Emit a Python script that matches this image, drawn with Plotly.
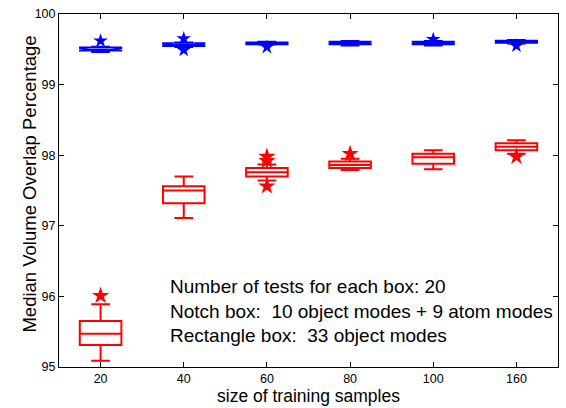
import plotly.graph_objects as go

# Training-sample sizes on the x axis
sizes = ["20", "40", "60", "80", "100", "160"]
positions = [1, 2, 3, 4, 5, 6]

# Rectangle boxes (33 object modes) - red
rect_q1 = [95.31, 97.32, 97.70, 97.82, 97.88, 98.07]
rect_median = [95.47, 97.50, 97.76, 97.86, 97.97, 98.12]
rect_q3 = [95.65, 97.56, 97.82, 97.91, 98.02, 98.17]
rect_low = [95.09, 97.11, 97.64, 97.79, 97.80, 98.02]
rect_high = [95.89, 97.70, 97.87, 97.95, 98.07, 98.21]
rect_out_x = [1, 3, 3, 3, 4, 6]
rect_out_y = [96.01, 97.98, 97.92, 97.56, 98.02, 97.98]

# Notch boxes (10 object modes + 9 atom modes) - blue
notch_q1 = [99.48, 99.545, 99.57, 99.57, 99.57, 99.59]
notch_median = [99.50, 99.565, 99.585, 99.59, 99.59, 99.61]
notch_q3 = [99.53, 99.59, 99.60, 99.61, 99.61, 99.625]
notch_low = [99.46, 99.53, 99.565, 99.55, 99.55, 99.58]
notch_high = [99.54, 99.60, 99.61, 99.62, 99.62, 99.635]
notch_span = [0.015, 0.012, 0.01, 0.012, 0.012, 0.01]
notch_out_x = [1, 2, 2, 3, 5, 6]
notch_out_y = [99.62, 99.65, 99.49, 99.53, 99.64, 99.55]

# Y axis ticks
y_ticks = [95, 96, 97, 98, 99, 100]

FONT = "Liberation Sans, Arial, Helvetica, sans-serif"

fig = go.Figure()

fig.add_trace(go.Box(
    x=positions, q1=rect_q1, median=rect_median, q3=rect_q3,
    lowerfence=rect_low, upperfence=rect_high,
    boxpoints=False, width=0.5, whiskerwidth=0.45,
    fillcolor="rgba(255,255,255,0)",
    line=dict(color="#ff0000", width=2),
    showlegend=False, hoverinfo="skip",
))
fig.add_trace(go.Box(
    x=positions, q1=notch_q1, median=notch_median, q3=notch_q3,
    lowerfence=notch_low, upperfence=notch_high,
    notched=True, notchspan=notch_span, notchwidth=0.25,
    boxpoints=False, width=0.5, whiskerwidth=0.45,
    fillcolor="rgba(255,255,255,0)",
    line=dict(color="#0000ff", width=1.6),
    showlegend=False, hoverinfo="skip",
))
fig.add_trace(go.Scatter(
    x=rect_out_x, y=rect_out_y, mode="markers",
    marker=dict(symbol="star", size=13, color="#ff0000", line=dict(width=0)),
    showlegend=False, hoverinfo="skip",
))
fig.add_trace(go.Scatter(
    x=notch_out_x, y=notch_out_y, mode="markers",
    marker=dict(symbol="star", size=11, color="#0000ff", line=dict(width=0)),
    showlegend=False, hoverinfo="skip",
))

fig.add_annotation(
    x=0.218, y=0.158, xref="paper", yref="paper",
    xanchor="left", yanchor="middle", align="left", showarrow=False,
    text=("Number of tests for each box: 20<br>"
          "Notch box:  10 object modes + 9 atom modes<br>"
          "Rectangle box:  33 object modes"),
    font=dict(family=FONT, size=19, color="black"),
)

# Y axis title placed as rotated text left of the tick labels
fig.add_annotation(
    x=-0.06, y=0.517, xref="paper", yref="paper",
    xanchor="center", yanchor="middle",
    text="Median Volume Overlap Percentage", textangle=-90, showarrow=False,
    font=dict(family=FONT, size=18.5, color="black"),
)

fig.update_layout(
    width=566, height=408,
    margin=dict(l=59, r=8, t=7, b=41),
    paper_bgcolor="white", plot_bgcolor="white",
    boxmode="overlay",
    font=dict(family=FONT, color="black", size=12),
)
fig.update_xaxes(
    range=[0.5, 6.5], tickvals=positions, ticktext=sizes,
    ticks="inside", ticklen=5, tickcolor="black",
    showline=True, linecolor="black", linewidth=1, mirror="ticks",
    showgrid=False, zeroline=False,
    title=dict(text="size of training samples", font=dict(size=17.5, family=FONT), standoff=3),
    tickfont=dict(size=12.5, family=FONT),
)
fig.update_yaxes(
    range=[95, 100], tickvals=y_ticks,
    ticks="inside", ticklen=5, tickcolor="black",
    showline=True, linecolor="black", linewidth=1, mirror="ticks",
    showgrid=False, zeroline=False,
    tickfont=dict(size=12.5, family=FONT),
)

fig.write_html("out.html")
